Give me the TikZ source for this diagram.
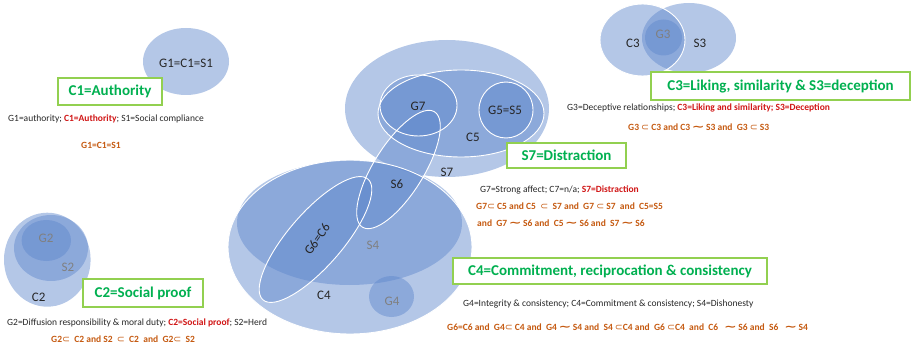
\documentclass[tikz,border=0pt]{standalone}
\usepackage{fontspec}
\usepackage{graphicx}
\setmainfont{Carlito}
\newfontfamily\symf{DejaVu Sans}
\definecolor{cblue}{HTML}{5C85CB}
\definecolor{boxgreen}{HTML}{92D050}
\definecolor{tgreen}{HTML}{00B050}
\definecolor{cred}{HTML}{D01515}
\definecolor{corange}{HTML}{C55A11}
\newcommand\sbs{{\symf\mdseries ⊂}}
\newcommand\tld{\,{\symf\bfseries\scalebox{1.6}[1.1]{∼}}\,}
\begin{document}
\begin{tikzpicture}[x=1pt,y=-1pt,
  blob/.style={fill=cblue,fill opacity=0.46},
  wline/.style={draw=white,line width=0.9pt},
  lab/.style={font=\fontsize{13}{14}\selectfont,text=black!85,inner sep=0pt},
  glab/.style={font=\fontsize{13}{14}\selectfont,text=black!50,inner sep=0pt},
  gbox/.style={draw=boxgreen,line width=2.4pt,fill=white,inner sep=0pt,
    font=\bfseries\fontsize{15}{16}\selectfont,text=tgreen},
  txt/.style={font=\fontsize{9.5}{11}\selectfont,anchor=base west,inner sep=0pt,text=black!85},
  otxt/.style={font=\bfseries\fontsize{9.5}{11}\selectfont,anchor=base west,inner sep=0pt,text=corange},
]
\useasboundingbox (0,0) rectangle (912,347);
% ---- fills
\fill[blob] (186,61.5) ellipse [x radius=43,y radius=33.5];
% group 2
\fill[blob] (47.3,259.7) ellipse [x radius=43.3,y radius=47];
\fill[blob] (51,248) ellipse [x radius=37,y radius=33];
\fill[blob] (46.3,240.5) ellipse [x radius=24.7,y radius=20.5];
% group 3
\fill[blob] (689,38) ellipse [x radius=47,y radius=35];
\fill[blob] (642.5,40) ellipse [x radius=42.5,y radius=36];
\fill[blob] (663.5,37.5) ellipse [x radius=18.5,y radius=18];
% group 7
\fill[blob] (447,108.5) ellipse [x radius=102,y radius=68.5];
\fill[blob] (461,113.5) ellipse [x radius=83,y radius=43.5];
\fill[blob] (418.5,105.5) ellipse [x radius=38.5,y radius=30.5];
\fill[blob] (506,110) ellipse [x radius=27,y radius=28];
% group 4
\fill[blob] (350,247) ellipse [x radius=122,y radius=87];
\fill[blob] (349.5,223) ellipse [x radius=112.5,y radius=62];
\fill[blob] (391.5,296.5) ellipse [x radius=22.5,y radius=20.5];
\fill[blob,rotate around={49:(315.5,239.5)}] (315.5,239.5) ellipse [x radius=80,y radius=27];
\fill[blob,rotate around={58:(398.5,169.5)}] (398.5,169.5) ellipse [x radius=68,y radius=25];
% ---- white outlines
\draw[wline] (642.5,40) ellipse [x radius=42.5,y radius=36];
\draw[wline] (461,113.5) ellipse [x radius=83,y radius=43.5];
\draw[wline] (418.5,105.5) ellipse [x radius=38.5,y radius=30.5];
\draw[wline] (506,110) ellipse [x radius=27,y radius=28];
\draw[wline] (350,247) ellipse [x radius=122,y radius=87];
\draw[wline,rotate around={49:(315.5,239.5)}] (315.5,239.5) ellipse [x radius=80,y radius=27];
\draw[wline,rotate around={58:(398.5,169.5)}] (398.5,169.5) ellipse [x radius=68,y radius=25];
% ---- shape labels
\node[lab] (lg1) at (186,63) {G1=C1=S1};
\node[glab] (lg2) at (46,238) {G2};
\node[glab] (ls2) at (68,267) {S2};
\node[lab] (lc2) at (38.7,297) {C2};
\node[lab] (lc3) at (633,43) {C3};
\node[glab] (lg3) at (663,34) {G3};
\node[lab] (ls3) at (700,43) {S3};
\node[lab] (lg7) at (418,106) {G7};
\node[lab] (lg5) at (505,110.5) {G5=S5};
\node[lab] (lc5) at (473,137) {C5};
\node[lab] (ls7) at (447,172) {S7};
\node[lab] (ls6) at (397,184) {S6};
\node[lab,rotate=55] (lg6) at (317,239) {G6=C6};
\node[glab] (ls4) at (373,245) {S4};
\node[lab] (lc4) at (324,295.5) {C4};
\node[glab] (lg4) at (392,301) {G4};
% ---- green boxes
\node[gbox,minimum width=104,minimum height=27] (b1) at (110,91.5) {C1=Authority};
\node[gbox,minimum width=120,minimum height=28] (b2) at (143,293) {C2=Social proof};
\node[gbox,minimum width=259,minimum height=28] (b3) at (780.5,86) {C3=Liking, similarity \& S3=deception};
\node[gbox,minimum width=119,minimum height=25] (b7) at (566.5,155.5) {S7=Distraction};
\node[gbox,minimum width=314,minimum height=26] (b4) at (610,271) {C4=Commitment, reciprocation \& consistency};
% ---- descriptive texts
\node[txt] (t1) at (8,122) {G1=authority; \textcolor{cred}{\bfseries C1=Authority}; S1=Social compliance};
\node[otxt] (o1) at (81,149) {G1=C1=S1};
\node[txt] (t2) at (7,325) {G2=Diffusion responsibility \& moral duty; \textcolor{cred}{\bfseries C2=Social proof}; S2=Herd};
\node[otxt] (o2) at (51,342) {G2\sbs\ \ C2 and S2 \ \sbs\ \ C2 \ and \ G2\sbs\ \ S2};
\node[txt] (t3) at (567,111) {G3=Deceptive relationships; \textcolor{cred}{\bfseries C3=Liking and similarity; S3=Deception}};
\node[otxt] (o3) at (628,131) {G3 \sbs\ C3 and C3\tld S3 and \ G3 \sbs\ S3};
\node[txt] (t7) at (480,193) {G7=Strong affect; C7=n/a; \textcolor{cred}{\bfseries S7=Distraction}};
\node[otxt] (o7a) at (476,210) {G7\sbs\ C5 and C5 \ \sbs\ \ S7 and \ G7 \sbs\ S7 \ and \ C5=S5};
\node[otxt] (o7b) at (477,226) {and \ G7\tld S6 and \ C5\tld S6 and \ S7\tld S6};
\node[txt] (t4) at (463,306) {G4=Integrity \& consistency; C4=Commitment \& consistency; S4=Dishonesty};
\node[otxt] (o4) at (447,330) {G6=C6 and \ G4\sbs\ C4 and \ G4\tld S4 and \ S4 \sbs C4 and \ G6 \sbs C4 \ and \ C6 \ \tld S6 and \ S6 \ \tld S4};
\end{tikzpicture}
\end{document}
